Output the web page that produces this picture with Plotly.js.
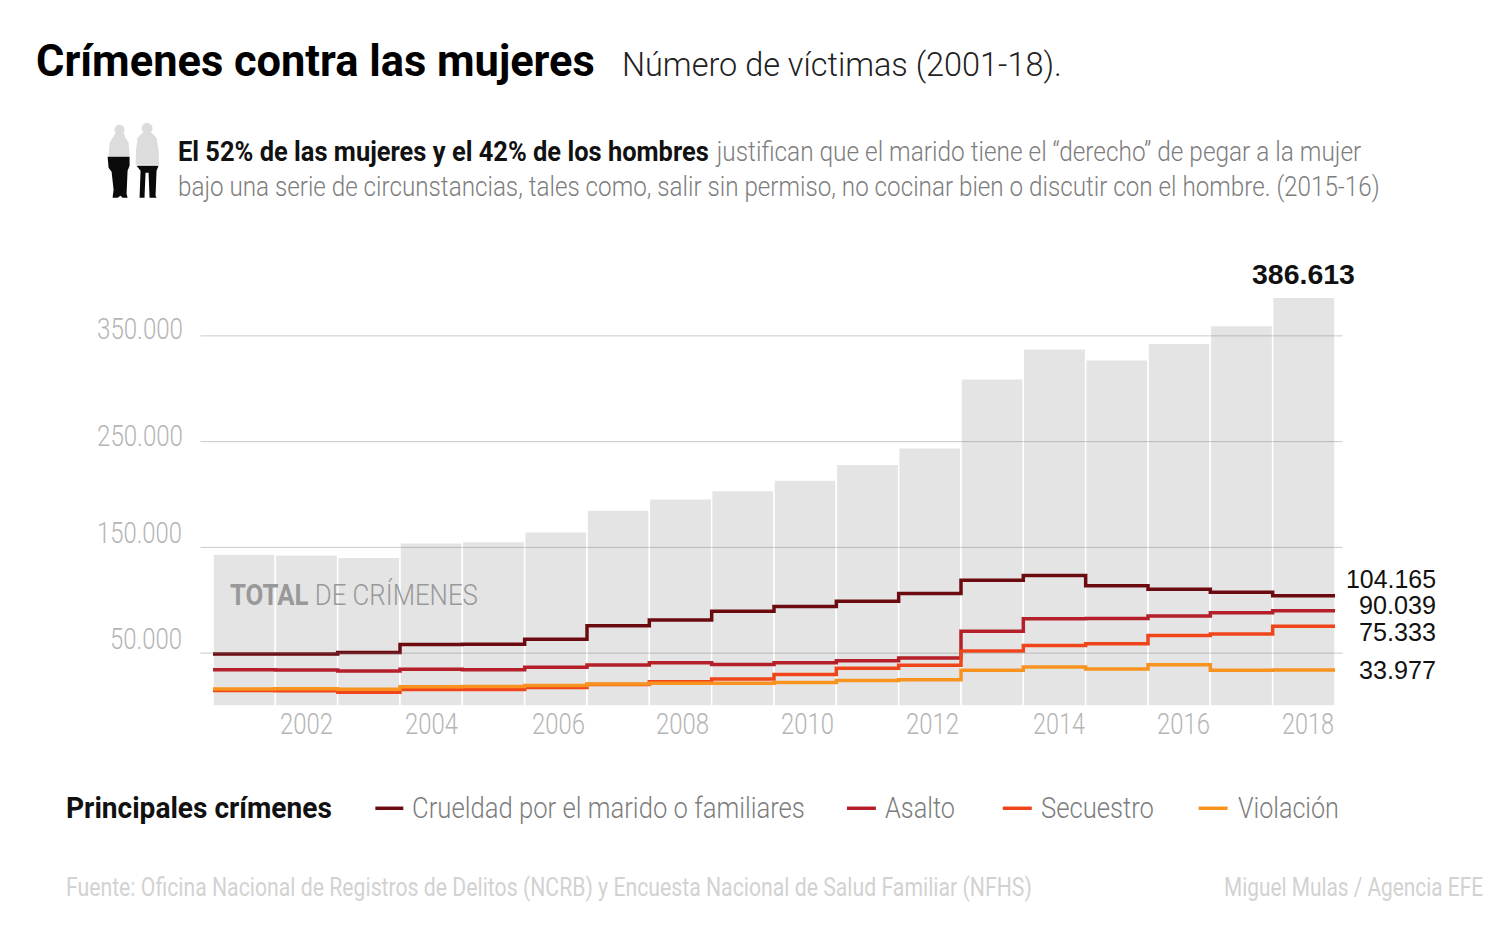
<!DOCTYPE html>
<html>
<head>
<meta charset="utf-8">
<script src="https://cdn.plot.ly/plotly-3.0.1.min.js"></script>
<style>html,body{margin:0;padding:0;background:#fff}#chart{width:1500px;height:938px}</style>
</head>
<body>
<div id="chart"></div>
<script>
const years = [2001,2002,2003,2004,2005,2006,2007,2008,2009,2010,2011,2012,2013,2014,2015,2016,2017,2018];
const total = [143600,143000,140600,154300,155500,164800,185300,195900,203800,213600,228600,244300,309500,337900,327400,343000,359800,386613];
const crueldad = [49200,49200,50700,58100,58300,63100,75900,81300,89500,94000,99100,106500,118900,123500,113700,110500,107500,104165];
const asalto = [34200,34000,33200,34800,34300,36600,38700,40800,39300,40800,42900,45500,70800,82600,82800,85000,88200,90039];
const secuestro = [14600,14500,13000,15600,15700,17400,20400,22900,25600,29800,35600,38600,52100,57200,58800,66700,68200,75333];
const violacion = [16100,16400,15800,18200,18400,19300,20700,21500,21400,22200,24200,24900,33900,36800,34900,39000,33900,33977];
const names = ["Crueldad por el marido o familiares","Asalto","Secuestro","Violación"];
const colors = ["#6b0b10","#b41f2a","#f0451b","#f7931e"];
const gridVals = [50000,150000,250000,350000];
const gridText = ["50.000","150.000","250.000","350.000"];
const gridShift = [14,14,6,7];
const xTickVals = [2002,2004,2006,2008,2010,2012,2014,2016,2018];
const endLabels = ["104.165","90.039","75.333","33.977"];
const peakLabel = "386.613";

const F = 'Roboto,sans-serif';
const L=212.5,R=1335.5,B=705.8,T=283.1;
const px=x=>(x-L)/(R-L), py=y=>(B-y)/(B-T);
const edges=[...years.map(y=>y-0.5),2018.5];
const step=(v,i)=>({type:'scatter',mode:'lines',x:edges,y:[...v,v[v.length-1]],name:names[i],
  line:{shape:'hv',color:colors[i],width:3.5},hoverinfo:'skip',showlegend:false});
const traces=[
 {type:'bar',x:years,y:total,width:1,name:'Total',marker:{color:'#e4e4e4',line:{color:'#ffffff',width:1.5}},hoverinfo:'skip',showlegend:false},
 step(crueldad,0),step(asalto,1),step(secuestro,2),step(violacion,3)
];
const note=(x,y,text,size,color,anchor,family,weight)=>({xref:'paper',yref:'paper',x:px(x),y:py(y),text:text,showarrow:false,
  xanchor:anchor||'left',yanchor:'middle',align:anchor||'left',font:{family:family||F,size:size,color:color,weight:weight||300}});
const title1='Crímenes contra las mujeres', title2='Número de víctimas (2001-18).';
const lead1='El 52% de las mujeres y el 42% de los hombres', lead1b='justifican que el marido tiene el “derecho” de pegar a la mujer';
const lead2='bajo una serie de circunstancias, tales como, salir sin permiso, no cocinar bien o discutir con el hombre. (2015-16)';
const legendTitle='Principales crímenes';
const source='Fuente: Oficina Nacional de Registros de Delitos (NCRB) y Encuesta Nacional de Salud Familiar (NFHS)';
const credit='Miguel Mulas / Agencia EFE';
const annotations=[
 note(36,61,'<b>'+title1+'</b>',44,'#000','left',F,400),
 note(622,65,title2,33,'#222'),
 note(178,152,'<b>'+lead1+'</b>',28,'#111','left',F,400),
 note(715,152,lead1b,28,'#7d7d7d'),
 note(178,187,lead2,28,'#7d7d7d'),
 note(1303.5,274.5,'<b>'+peakLabel+'</b>',28,'#111','center','Liberation Sans',400),
 note(230,594,'<b>TOTAL</b> DE CRÍMENES',30,'#999'),
 note(1436,579,endLabels[0],25,'#111','right','Liberation Sans',400),
 note(1436,605,endLabels[1],25,'#111','right','Liberation Sans',400),
 note(1436,632,endLabels[2],25,'#111','right','Liberation Sans',400),
 note(1436,670,endLabels[3],25,'#111','right','Liberation Sans',400),
 note(66,807,'<b>'+legendTitle+'</b>',30,'#111','left',F,400),
 note(412,807,names[0],30,'#7d7d7d'),
 note(885,807,names[1],30,'#7d7d7d'),
 note(1041,807,names[2],30,'#7d7d7d'),
 note(1238,807,names[3],30,'#7d7d7d'),
 note(66,887,source,25,'#d2d2d2','left',F,400),
 note(1483,887,credit,25,'#d2d2d2','right',F,400)
];
gridVals.forEach((v,i)=>annotations.push({xref:'paper',yref:'y',x:px(183),y:v,yshift:gridShift[i],text:gridText[i],showarrow:false,
  xanchor:'right',yanchor:'middle',font:{family:F,size:29,color:'#b5b5b5',weight:300}}));

const shapes=[];
gridVals.forEach(v=>shapes.push({type:'line',xref:'paper',yref:'y',x0:px(200),x1:px(1343),y0:v,y1:v,layer:'above',
  line:{color:'rgba(120,120,120,0.4)',width:1}}));
[[375,403],[847,876],[1003,1032],[1199,1228]].forEach((k,i)=>shapes.push({type:'line',xref:'paper',yref:'paper',
  x0:px(k[0]),x1:px(k[1]),y0:py(808),y1:py(808),line:{color:colors[i],width:3.5}}));
const pathOf=(pts)=>'M'+pts.map(p=>px(p[0])+','+py(p[1])).join(' L')+' Z';
const icon=(pts,c)=>shapes.push({type:'path',xref:'paper',yref:'paper',path:pathOf(pts),fillcolor:c,line:{width:0}});
const head=(cx,cy,r,c)=>shapes.push({type:'circle',xref:'paper',yref:'paper',x0:px(cx-r),x1:px(cx+r),y0:py(cy+r),y1:py(cy-r),fillcolor:c,line:{width:0}});
const LG='#dcdcdc',BK='#0a0a0a';
// woman
head(119,130,5,LG);
icon([[115,133],[123,133],[125,138],[128,143],[129,157],[108,157],[109,143],[112,138]],LG);
icon([[107,157],[129,157],[129,166],[127,171],[126,194],[127,198],[122,198],[120,196],[117,198],[112,198],[113,190],[111,172],[108,168]],BK);
// man
head(146.5,128.5,5.5,LG);
icon([[142,133],[151,133],[156,138],[158,150],[158.5,165],[135,165],[135.5,150],[137,138]],LG);
icon([[136,166],[158,166],[156,171],[155,196],[156,198],[149,198],[148,173],[145,173],[144,196],[144,198],[139,198],[140,171]],BK);

// horizontal extent of each text in the reference: Roboto Condensed is not installed, so type is narrowed to fit
const fits=new Map([
 [title1,[36,595]],[title2,[622,1062]],[lead1,[178,709]],[lead1b,[715,1362]],[lead2,[178,1380]],
 ['TOTAL DE CRÍMENES',[230,478]],[legendTitle,[66,332]],
 [names[0],[412,805]],[names[1],[885,955]],[names[2],[1041,1154]],[names[3],[1238,1339]],
 [source,[66,1032]],[credit,[1224,1483]],
 ['350.000',[97,183]],['250.000',[97,183]],['150.000',[97,182]],['50.000',[110,182]],
 ['2002',[280,333,-2]],['2004',[405,458,-2]],['2006',[532,585,-2]],['2008',[656,709,-2]],['2010',[781,834,-2]],
 ['2012',[906,959,-2]],['2014',[1033,1085,-2]],['2016',[1157,1210,-2]],['2018',[1282,1334,-2]],
 [peakLabel,[1252,1355]],['104.165',[1346,1436]],['90.039',[1359,1436]],['75.333',[1359,1436]],['33.977',[1359,1436]]
]);
function fitTexts(){
 document.querySelectorAll('#chart svg text').forEach(t=>{
  const f=fits.get(t.textContent); if(!f) return;
  const r=t.getBoundingClientRect(); const ox=t.parentNode.getScreenCTM().e;
  const sx=(f[1]-f[0])/r.width; const tx=f[0]-ox-sx*(r.left-ox);
  t.setAttribute('transform','matrix('+sx+',0,0,1,'+tx+','+(f[2]||0)+') '+(t.getAttribute('transform')||''));
 });
}
Plotly.newPlot('chart',traces,{
 width:1500,height:938,autosize:false,showlegend:false,
 paper_bgcolor:'#fff',plot_bgcolor:'#fff',
 margin:{l:L,r:1500-R,t:T,b:938-B,pad:0},
 bargap:0,
 xaxis:{range:[2000.5,2018.5],tickvals:xTickVals,ticktext:xTickVals.map(String),showgrid:false,zeroline:false,showline:false,ticks:'',
   tickfont:{family:F,size:29,color:'#b5b5b5',weight:300}},
 yaxis:{range:[0,400000],showticklabels:false,showgrid:false,zeroline:false,showline:false,ticks:''},
 annotations:annotations,shapes:shapes
},{displayModeBar:false,staticPlot:true}).then(fitTexts);
</script>
</body>
</html>
